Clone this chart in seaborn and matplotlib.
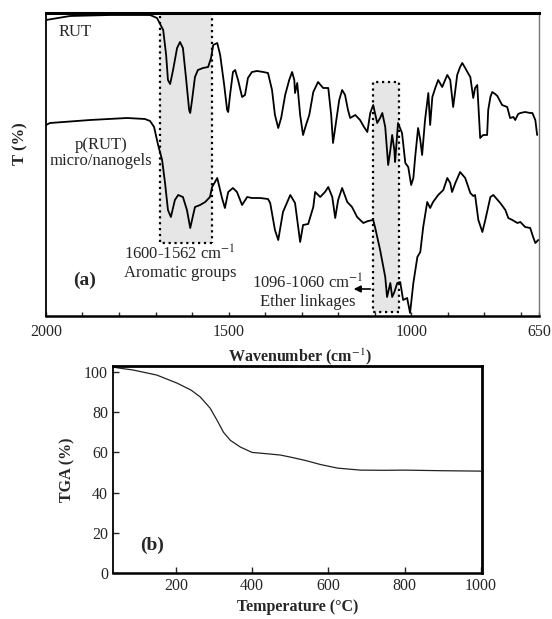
import matplotlib
matplotlib.use("Agg")
import matplotlib.pyplot as plt
from matplotlib.patches import Rectangle
from matplotlib.ticker import MultipleLocator
import pandas as pd
import seaborn as sns

# FTIR spectra (transmittance, arbitrary offset units)
rut_wn = [2000, 1934, 1825, 1715, 1696, 1679, 1671, 1666, 1660, 1652, 1641, 1633, 1625, 1616,
          1608, 1605, 1600, 1592, 1584, 1570, 1556, 1548, 1542, 1531, 1523, 1512, 1504, 1501,
          1496, 1488, 1482, 1474, 1463, 1455, 1447, 1436, 1422, 1405, 1392, 1381, 1373, 1364,
          1356, 1345, 1334, 1326, 1320, 1318, 1312, 1304, 1296, 1288, 1279, 1268, 1255, 1241,
          1227, 1219, 1214, 1205, 1197, 1189, 1181, 1173, 1167, 1153, 1140, 1129, 1120, 1112,
          1104, 1093, 1085, 1079, 1071, 1063, 1057, 1052, 1046, 1044, 1036, 1025, 1016, 1008,
          1000, 994, 989, 981, 975, 970, 962, 953, 948, 942, 934, 926, 915, 907, 901, 893, 885,
          879, 874, 866, 860, 852, 846, 838, 830, 825, 819, 811, 803, 792, 789, 783, 778, 770,
          764, 751, 737, 729, 720, 715, 707, 701, 688, 674, 668, 660, 655]
rut_t = [296, 300, 301, 301, 298, 286, 261, 236, 232, 246, 268, 274, 268, 236,
         206, 203, 216, 239, 246, 248, 249, 258, 271, 273, 261, 231, 206, 204,
         221, 244, 246, 236, 219, 221, 238, 244, 245, 244, 243, 226, 201, 188,
         198, 221, 236, 244, 236, 223, 233, 201, 181, 191, 201, 224, 234, 228,
         228, 201, 173, 196, 216, 226, 221, 206, 198, 201, 196, 189, 184, 203,
         211, 193, 198, 203, 189, 151, 166, 181, 166, 154, 193, 183, 153, 149,
         131, 138, 159, 188, 176, 161, 196, 223, 191, 219, 228, 236, 229, 236, 241, 236, 209,
         226, 241, 249, 253, 248, 244, 239, 218, 228, 231, 178, 181, 181, 206, 219, 224, 222,
         220, 211, 209, 198, 199, 196, 202, 203, 204, 203, 203, 196, 181]

prut_wn = [2000, 1989, 1879, 1778, 1729, 1715, 1704, 1693, 1682, 1674, 1666, 1658, 1647, 1638,
           1625, 1614, 1605, 1597, 1592, 1578, 1564, 1551, 1545, 1531, 1518, 1510, 1501, 1488,
           1477, 1463, 1449, 1436, 1414, 1392, 1386, 1373, 1364, 1351, 1331, 1318, 1304, 1296,
           1282, 1268, 1263, 1249, 1236, 1227, 1216, 1208, 1200, 1189, 1175, 1162, 1148, 1131,
           1118, 1104, 1099, 1085, 1071, 1066, 1057, 1052, 1046, 1038, 1030, 1022, 1011, 1003,
           994, 983, 975, 967, 956, 948, 940, 926, 912, 901, 893, 888, 879, 866, 852, 838, 830,
           825, 816, 805, 797, 783, 775, 756, 742, 734, 723, 709, 701, 688, 674, 666, 660, 652]
prut_t = [191, 193, 196, 198, 197, 195, 189, 171, 156, 133, 106, 99, 116, 121,
          119, 106, 88, 101, 109, 111, 114, 119, 129, 138, 118, 108, 124, 128,
          124, 111, 119, 118, 118, 117, 113, 86, 76, 104, 121, 113, 74, 91,
          92, 109, 124, 119, 124, 129, 119, 98, 116, 128, 114, 109, 99, 93,
          95, 96, 89, 66, 39, 19, 33, 19, 24, 33, 34, 16, 18, 3,
          33, 59, 64, 89, 114, 108, 114, 121, 126, 138, 133, 124, 133, 144, 138, 123, 120,
          121, 96, 84, 96, 119, 121, 113, 106, 98, 96, 93, 94, 89, 88, 79, 73, 76]

# TGA curve
temp_c = [35, 50, 88, 150, 203, 240, 264, 290, 308, 325, 343, 369, 400, 447, 474, 500,
          540, 579, 624, 684, 750, 797, 900, 1000]
tga_pct = [102.5, 102, 101, 98.5, 94.5, 91, 87.6, 82, 76, 70, 66, 62.7, 60, 59.2, 58.7,
           57.7, 56, 54, 52.2, 51.2, 51.1, 51.2, 50.9, 50.7]

ftir_xticks = [2000, 1500, 1000, 650]
tga_xticks = [200, 400, 600, 800, 1000]
tga_yticks = [0, 20, 40, 60, 80, 100]

sns.set_theme(style="ticks")
plt.rcParams["font.family"] = ["Liberation Serif", "DejaVu Serif"]
plt.rcParams["mathtext.fontset"] = "stix"

fig = plt.figure(figsize=(5.52, 6.19), dpi=100)
ax1 = fig.add_axes([0.0833, 0.4895, 0.8931, 0.4895])
ax2 = fig.add_axes([0.2047, 0.0743, 0.6683, 0.3344])

# ---- (a) FTIR ----
ftir = pd.concat([
    pd.DataFrame({"wn": rut_wn, "T": rut_t, "sample": "RUT"}),
    pd.DataFrame({"wn": prut_wn, "T": prut_t, "sample": "p(RUT)"}),
])
ax1.add_patch(Rectangle((1545, 73), 143, 240, facecolor="#e6e6e6", edgecolor="black",
                        linestyle=":", linewidth=1.6, zorder=1))
ax1.add_patch(Rectangle((1033, 4), 71, 230, facecolor="#e6e6e6", edgecolor="black",
                        linestyle=":", linewidth=1.6, zorder=1))
sns.lineplot(data=ftir, x="wn", y="T", units="sample", estimator=None, color="black",
             linewidth=1.3, ax=ax1, zorder=3)
ax1.set_xlim(2000, 650)
ax1.set_ylim(0, 303)
ax1.set_yticks([])
ax1.set_xticks(ftir_xticks)
ax1.xaxis.set_minor_locator(MultipleLocator(100))
ax1.tick_params(axis="x", which="both", direction="in", length=3, width=1, labelsize=11.5, pad=6)
ax1.set_xlabel("Wavenumber (cm$^{-1}$)", fontsize=11.5, fontweight="bold", labelpad=3)
ax1.xaxis.set_label_coords(0.515, -0.1)
ax1.set_ylabel("T (%)", fontsize=12, fontweight="bold", labelpad=8)
ax1.yaxis.set_label_coords(-0.035, 0.57)
for side, lw, col in [("top", 2.2, "black"), ("left", 1.3, "black"),
                      ("bottom", 1.8, "black"), ("right", 1.0, "#777777")]:
    ax1.spines[side].set_visible(True)
    ax1.spines[side].set_linewidth(lw)
    ax1.spines[side].set_color(col)

ax1.text(1921, 284, "RUT", fontsize=12, ha="center", va="center")
ax1.text(1849, 163, "p(RUT)\nmicro/nanogels", fontsize=12, ha="center", va="center",
         linespacing=1.05)
ax1.text(1893, 36, "(a)", fontsize=14, fontweight="bold", ha="center", va="center")
ax1.text(1633, 53, "1600-1562 cm$^{-1}$\nAromatic groups", fontsize=12, ha="center",
         va="center", linespacing=1.1)
ax1.text(1283, 24, "1096-1060 cm$^{-1}$\nEther linkages", fontsize=12, ha="center",
         va="center", linespacing=1.1)
ax1.annotate("", xy=(1165, 27), xytext=(1104, 27),
             arrowprops=dict(arrowstyle="-|>", color="black", lw=1.2, mutation_scale=10))

# ---- (b) TGA ----
tga = pd.DataFrame({"temp": temp_c, "tga": tga_pct})
sns.lineplot(data=tga, x="temp", y="tga", color="#222222", linewidth=0.9, ax=ax2)
ax2.set_xlim(35, 1003)
ax2.set_ylim(0, 103)
ax2.set_xticks(tga_xticks)
ax2.set_yticks(tga_yticks)
ax2.tick_params(direction="in", length=4, width=1, labelsize=11.5)
ax2.set_xlabel("Temperature (°C)", fontsize=11.5, fontweight="bold", labelpad=4)
ax2.set_ylabel("TGA (%)", fontsize=11.5, fontweight="bold", labelpad=6)
for side, lw in [("top", 2.0), ("left", 1.3), ("bottom", 1.8), ("right", 2.0)]:
    ax2.spines[side].set_visible(True)
    ax2.spines[side].set_linewidth(lw)
    ax2.spines[side].set_color("black")
ax2.text(137, 14, "(b)", fontsize=14, fontweight="bold", ha="center", va="center")

fig.savefig("out.png", dpi=100)
